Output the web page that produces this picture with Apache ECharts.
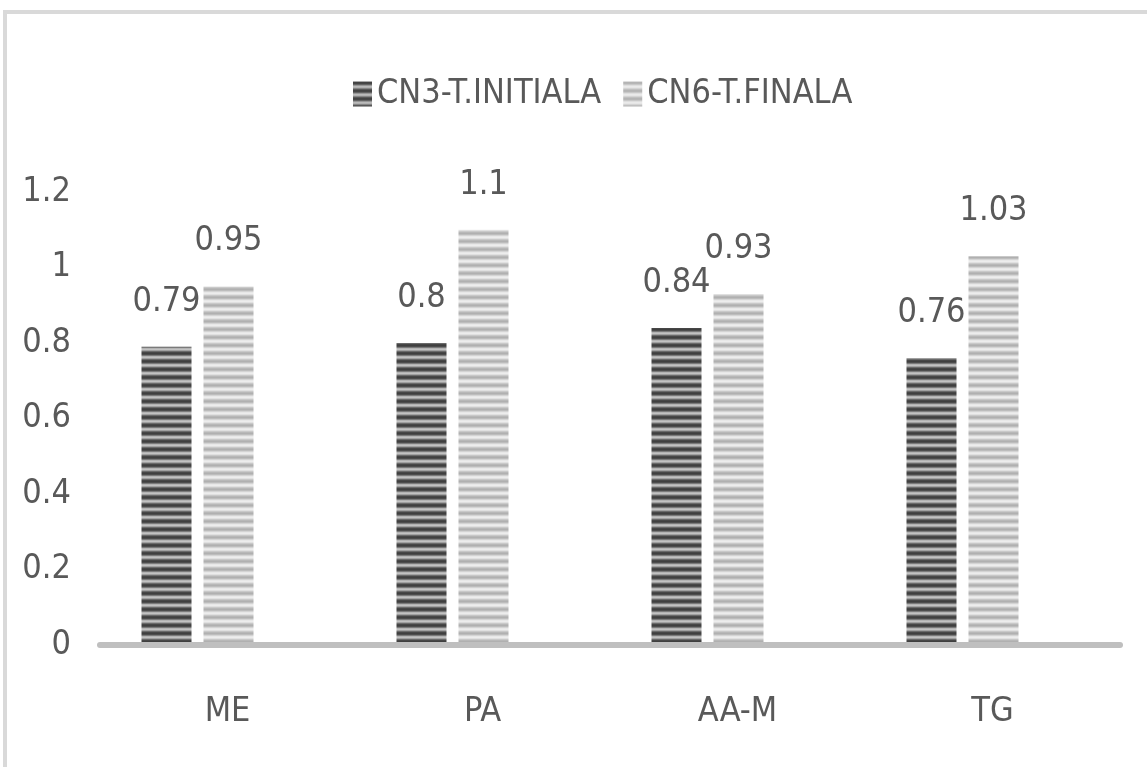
<!DOCTYPE html>
<html>
<head>
<meta charset="utf-8">
<script src="https://cdn.jsdelivr.net/npm/echarts@6/dist/echarts.min.js"></script>
<style>
  html, body { margin: 0; padding: 0; background: #ffffff; }
  #chart { width: 1147px; height: 767px; }
</style>
</head>
<body>
<div id="chart"></div>
<script>
// Categories and series values
const categories = ['ME', 'PA', 'AA-M', 'TG'];
const initialValues = [0.79, 0.8, 0.84, 0.76];
const finalValues = [0.95, 1.1, 0.93, 1.03];
const seriesNames = ['CN3-T.INITIALA', 'CN6-T.FINALA'];
const yTicks = { min: 0, max: 1.2, interval: 0.2 };

const FONT = '"Liberation Sans Narrow", "DejaVu Sans Condensed", sans-serif';
const TEXT = '#595959';
const FS = 34;

// Horizontal striped fill for the bars
function stripes(rows) {
  const c = document.createElement('canvas');
  c.width = 4; c.height = rows.length;
  const ctx = c.getContext('2d');
  rows.forEach((col, i) => { ctx.fillStyle = col; ctx.fillRect(0, i, 4, 1); });
  return { image: c, repeat: 'repeat' };
}
const darkFill = stripes(['#474747', '#3f3f3f', '#4d4d4d', '#7a7a7a', '#b3b3b3', '#c2c2c2', '#a0a0a0', '#6a6a6a']);
const lightFill = stripes(['#b8b8b8', '#b0b0b0', '#bdbdbd', '#d4d4d4', '#e8e8e8', '#ededed', '#e0e0e0', '#c9c9c9']);

const chart = echarts.init(document.getElementById('chart'), null, { renderer: 'canvas' });

const labelStyle = {
  show: true,
  position: 'top',
  distance: 28,
  fontFamily: FONT,
  fontSize: FS,
  color: TEXT
};

chart.setOption({
  animation: false,
  backgroundColor: '#ffffff',
  graphic: [{
    type: 'rect',
    shape: { x: 5, y: 12, width: 1200, height: 800 },
    style: { fill: 'none', stroke: '#d9d9d9', lineWidth: 4 },
    silent: true
  }],
  legend: {
    left: 348,
    top: 72,
    itemWidth: 19,
    itemHeight: 25,
    itemGap: 22,
    icon: 'rect',
    textStyle: { fontFamily: FONT, fontSize: FS, color: TEXT },
    data: seriesNames
  },
  grid: [
    { left: 100, right: 27, top: 192, bottom: 122 },
    { left: 70, right: 57, top: 192, bottom: 122 }
  ],
  xAxis: [
    {
      type: 'category', gridIndex: 0, data: categories, z: 5,
      axisLine: { show: true, lineStyle: { color: '#bfbfbf', width: 6 } },
      axisTick: { show: false },
      axisLabel: { fontFamily: FONT, fontSize: FS, color: TEXT, margin: 50 }
    },
    {
      type: 'category', gridIndex: 1, data: categories,
      axisLine: { show: false }, axisTick: { show: false }, axisLabel: { show: false }
    }
  ],
  yAxis: [
    {
      type: 'value', gridIndex: 0, min: yTicks.min, max: yTicks.max, interval: yTicks.interval,
      axisLine: { show: false }, axisTick: { show: false }, splitLine: { show: false },
      axisLabel: { fontFamily: FONT, fontSize: FS, color: TEXT, margin: 29 }
    },
    {
      type: 'value', gridIndex: 1, min: yTicks.min, max: yTicks.max, interval: yTicks.interval,
      show: false, splitLine: { show: false }
    }
  ],
  series: [
    {
      name: seriesNames[0], type: 'bar', xAxisIndex: 1, yAxisIndex: 1,
      data: initialValues, barWidth: 50, barGap: '24%',
      itemStyle: { color: darkFill },
      label: labelStyle
    },
    {
      name: seriesNames[1], type: 'bar', xAxisIndex: 1, yAxisIndex: 1,
      data: finalValues, barWidth: 50, barGap: '24%',
      itemStyle: { color: lightFill },
      label: labelStyle
    }
  ]
});
</script>
</body>
</html>
